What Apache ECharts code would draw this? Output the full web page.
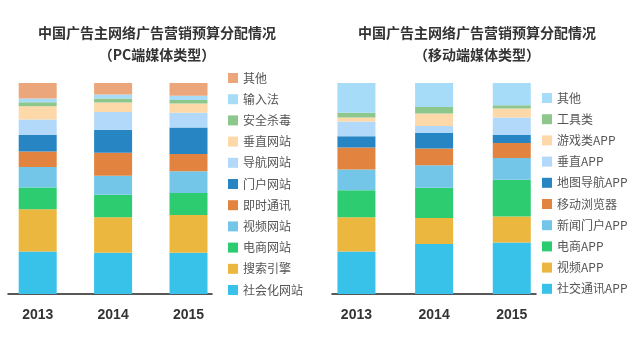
<!DOCTYPE html>
<html><head><meta charset="utf-8">
<script src="https://cdn.jsdelivr.net/npm/echarts@6/dist/echarts.min.js"></script>
<style>html,body{margin:0;padding:0;background:#fff}#c{width:640px;height:342px}</style>
</head><body><div id="c"></div>
<script>
const years = ['2013', '2014', '2015'];
const pcTitle = '中国广告主网络广告营销预算分配情况\n（PC端媒体类型）';
const mobileTitle = '中国广告主网络广告营销预算分配情况\n（移动端媒体类型）';

// PC series, bottom to top
const pcNames = ['社会化网站', '搜索引擎', '电商网站', '视频网站', '即时通讯', '门户网站', '导航网站', '垂直网站', '安全杀毒', '输入法', '其他'];
const pcValues = [
  [20.1, 19.5, 19.5],
  [20.1, 16.9, 18.0],
  [10.3, 10.6, 10.4],
  [9.7, 9.0, 10.3],
  [7.3, 10.9, 8.2],
  [7.8, 10.9, 12.5],
  [7.4, 8.4, 7.0],
  [6.3, 4.6, 4.4],
  [1.9, 1.9, 1.6],
  [1.7, 1.9, 2.1],
  [7.4, 5.4, 6.0]
];
const pcColors = ['#38c1e9', '#ecb73e', '#2ecc71', '#74c6e8', '#e2843f', '#2785c3', '#b2d9f9', '#fdd8a9', '#8dc78b', '#a6dcf5', '#eca67c'];

// Mobile series, bottom to top
const mobNames = ['社交通讯APP', '视频APP', '电商APP', '新闻门户APP', '移动浏览器', '地图导航APP', '垂直APP', '游戏类APP', '工具类', '其他'];
const mobValues = [
  [20.1, 23.7, 24.4],
  [16.3, 12.3, 12.3],
  [12.8, 14.4, 17.4],
  [9.8, 10.6, 10.4],
  [10.4, 7.9, 7.1],
  [5.4, 7.4, 3.8],
  [7.0, 3.3, 8.2],
  [1.9, 6.0, 4.3],
  [2.2, 3.0, 1.6],
  [14.1, 11.4, 10.5]
];
const mobColors = ['#38c1e9', '#ecb73e', '#2ecc71', '#74c6e8', '#e2843f', '#2785c3', '#b2d9f9', '#fdd8a9', '#8dc78b', '#a6dcf7'];

const FONT = '"Noto Sans CJK SC", "Noto Sans", sans-serif';
const chart = echarts.init(document.getElementById('c'));

const series = [];
pcNames.forEach((n, i) => series.push({
  name: n, type: 'bar', stack: 'pc', xAxisIndex: 0, yAxisIndex: 0,
  barWidth: 38, data: pcValues[i], itemStyle: { color: pcColors[i] }
}));
mobNames.forEach((n, i) => series.push({
  name: n, type: 'bar', stack: 'mob', xAxisIndex: 1, yAxisIndex: 1,
  barWidth: 38, data: mobValues[i], itemStyle: { color: mobColors[i] }
}));

const legendCommon = {
  orient: 'vertical', itemWidth: 10, itemHeight: 10, itemGap: 9.2, padding: 0,
  icon: 'rect', selectedMode: false,
  textStyle: { fontFamily: FONT, fontSize: 12, color: '#555' }
};
const legendItems = (names, colors) => names.map((n, i) => ({ name: n, itemStyle: { color: colors[i] } })).reverse();

chart.setOption({
  animation: false,
  backgroundColor: '#fff',
  title: [
    { text: pcTitle, left: 152, top: 17, textAlign: 'center',
      textStyle: { fontFamily: FONT, fontSize: 14, fontWeight: 'bold', color: '#333', lineHeight: 22 } },
    { text: mobileTitle, left: 472, top: 17, textAlign: 'center',
      textStyle: { fontFamily: FONT, fontSize: 14, fontWeight: 'bold', color: '#333', lineHeight: 22 } }
  ],
  legend: [
    Object.assign({}, legendCommon, { left: 228, top: 72, data: legendItems(pcNames, pcColors) }),
    Object.assign({}, legendCommon, { left: 542, top: 92, data: legendItems(mobNames, mobColors) })
  ],
  grid: [
    { left: -5.6, width: 231.8, top: 83, bottom: 48 },
    { left: 317.6, width: 233, top: 83, bottom: 48 },
    { left: 8, width: 204, top: 83, bottom: 48 },
    { left: 332, width: 204, top: 83, bottom: 48 }
  ],
  xAxis: [
    { type: 'category', gridIndex: 0, data: years, axisLine: { show: false }, axisTick: { show: false },
      axisLabel: { margin: 14, fontFamily: 'Liberation Sans, Arial, sans-serif', fontSize: 14, fontWeight: 'bold', color: '#333' } },
    { type: 'category', gridIndex: 1, data: years, axisLine: { show: false }, axisTick: { show: false },
      axisLabel: { margin: 14, fontFamily: 'Liberation Sans, Arial, sans-serif', fontSize: 14, fontWeight: 'bold', color: '#333' } },
    { type: 'category', gridIndex: 2, data: years, axisLine: { show: true, lineStyle: { color: '#222', width: 1.5 } },
      axisTick: { show: false }, axisLabel: { show: false } },
    { type: 'category', gridIndex: 3, data: years, axisLine: { show: true, lineStyle: { color: '#222', width: 1.5 } },
      axisTick: { show: false }, axisLabel: { show: false } }
  ],
  yAxis: [0, 1, 2, 3].map(i => ({
    type: 'value', gridIndex: i, min: 0, max: 100, show: false, splitLine: { show: false }
  })),
  series: series
});
</script>
</body></html>
